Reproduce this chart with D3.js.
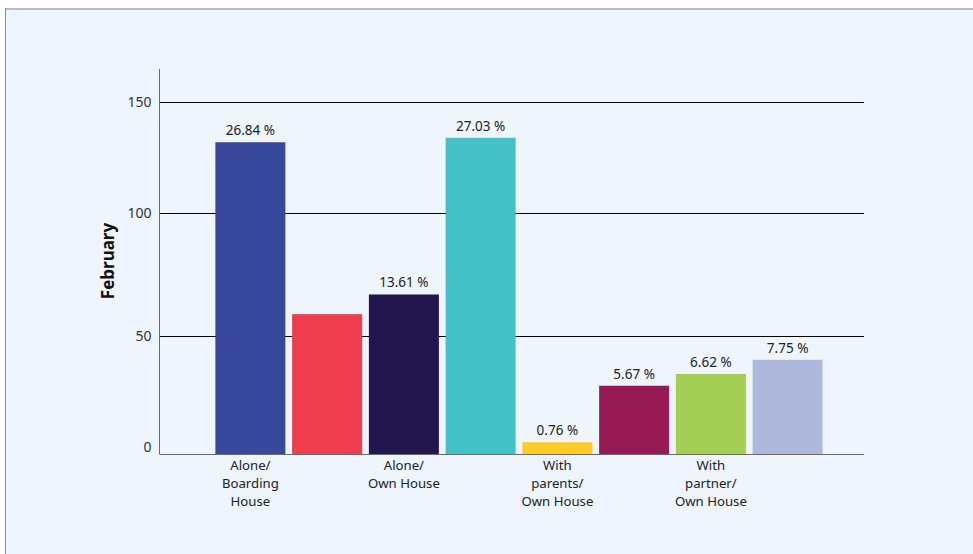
<!DOCTYPE html>
<html>
<head>
<meta charset="utf-8">
<script src="https://cdn.jsdelivr.net/npm/d3@7"></script>
<style>
  html, body { margin: 0; padding: 0; background: #ffffff; }
  svg { display: block; font-family: "Noto Sans", "Open Sans", sans-serif; }
</style>
</head>
<body>
<svg id="chart" width="973" height="554"></svg>
<script>
// Living situation counts for February
const categories = ["c1", "c2", "c3", "c4", "c5", "c6", "c7", "c8"];
const tickLabels = [
  ["Alone/", "Boarding", "House"], [],
  ["Alone/", "Own House"], [],
  ["With", "parents/", "Own House"], [],
  ["With", "partner/", "Own House"], []
];
const values = [132, 59, 67, 134, 5, 29, 34, 40];
const shareLabels = ["26.84 %", "", "13.61 %", "27.03 %", "0.76 %", "5.67 %", "6.62 %", "7.75 %"];
const colors = ["#36479c", "#ee3d4c", "#23164e", "#44c1c6", "#ffcc26", "#961b55", "#a1ce53", "#aeb7dc"];
const yTicks = [0, 50, 100, 150];

const svg = d3.select("#chart");

// panel background and frame
svg.append("rect").attr("x", 5).attr("y", 8).attr("width", 968).attr("height", 546).attr("fill", "#eef5fc");
svg.append("line").attr("x1", 5).attr("x2", 973).attr("y1", 9).attr("y2", 9)
  .attr("stroke", "#b3bbdd").attr("stroke-width", 2);
svg.append("line").attr("x1", 5.5).attr("x2", 5.5).attr("y1", 8).attr("y2", 554)
  .attr("stroke", "#7d88c6").attr("stroke-width", 1);

const plotLeft = 159.5, plotRight = 864, plotTop = 69, baseY = 454;

const x = d3.scaleBand()
  .domain(categories)
  .range([212, 826])
  .paddingInner(0.088)
  .paddingOuter(0.044);

const y = d3.scaleLinear()
  .domain(yTicks)
  .range([baseY, 336.3, 213.3, 102.3]);

// horizontal gridlines
svg.append("g")
  .selectAll("line")
  .data(yTicks.filter(d => d > 0))
  .join("line")
  .attr("x1", plotLeft).attr("x2", plotRight)
  .attr("y1", d => Math.round(y(d)) + 0.5).attr("y2", d => Math.round(y(d)) + 0.5)
  .attr("stroke", "#000").attr("stroke-width", 1);

// y axis
const yAxis = svg.append("g")
  .attr("transform", `translate(${plotLeft},0)`)
  .call(d3.axisLeft(y).tickValues(yTicks).tickSize(0).tickPadding(8));
yAxis.select(".domain").remove();
yAxis.selectAll("text")
  .attr("font-family", "'Noto Sans', 'Open Sans', sans-serif")
  .attr("font-size", 14).attr("fill", "#333")
  .attr("dy", d => d === 0 ? "-0.2em" : "0.32em");

svg.append("line")
  .attr("x1", plotLeft).attr("x2", plotLeft).attr("y1", plotTop).attr("y2", baseY)
  .attr("stroke", "#6b6b6b").attr("stroke-width", 1);

svg.append("text")
  .attr("transform", `translate(114,261) rotate(-90)`)
  .attr("text-anchor", "middle")
  .attr("font-size", 17).attr("font-weight", "bold").attr("fill", "#111")
  .text("February");

// bars
svg.append("g")
  .selectAll("rect")
  .data(values)
  .join("rect")
  .attr("x", (d, i) => x(categories[i]))
  .attr("width", x.bandwidth())
  .attr("y", d => y(d))
  .attr("height", d => baseY - y(d))
  .attr("fill", (d, i) => colors[i]);

// baseline
svg.append("line")
  .attr("x1", plotLeft).attr("x2", plotRight).attr("y1", baseY + 0.5).attr("y2", baseY + 0.5)
  .attr("stroke", "#6b6b6b").attr("stroke-width", 1.2);

// share labels above bars
svg.append("g")
  .selectAll("text")
  .data(values)
  .join("text")
  .attr("x", (d, i) => x(categories[i]) + x.bandwidth() / 2)
  .attr("y", d => y(d) - 7)
  .attr("text-anchor", "middle")
  .attr("font-size", 13.5).attr("fill", "#222")
  .text((d, i) => shareLabels[i]);

// category labels, one text element per line
const labelLines = [];
categories.forEach((c, i) => {
  tickLabels[i].forEach((t, j) => labelLines.push({ cat: c, line: j, text: t }));
});
svg.append("g")
  .selectAll("text")
  .data(labelLines)
  .join("text")
  .attr("x", d => x(d.cat) + x.bandwidth() / 2)
  .attr("y", d => 470 + d.line * 18)
  .attr("text-anchor", "middle")
  .attr("font-size", 13.2).attr("fill", "#222")
  .text(d => d.text);
</script>
</body>
</html>
